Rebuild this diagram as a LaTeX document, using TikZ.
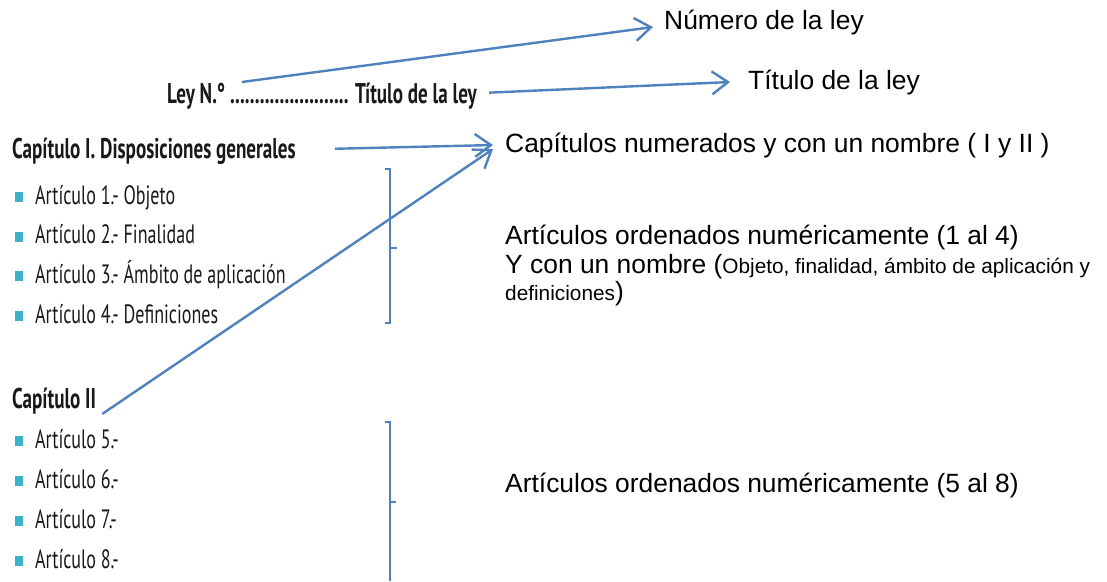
\documentclass[tikz,border=0pt]{standalone}
\usepackage{fontspec}
\setmainfont{Liberation Sans}
\newfontfamily\libro[FakeStretch=0.68]{PT Sans}
\newfontfamily\librob[FakeStretch=0.67]{PT Sans}
\usepackage{xcolor}
\usetikzlibrary{arrows.meta}
\definecolor{azul}{RGB}{79,129,189}
\definecolor{celeste}{RGB}{60,180,200}
\tikzset{
	flecha/.style={draw=azul, line width=2.4pt, -{Straight Barb[length=16pt,width=23pt]}},
	llave/.style={draw=azul, line width=1.4pt},
	nota/.style={anchor=base west, inner sep=0pt, font=\fontsize{26.4}{30}\selectfont},
	capitulo/.style={anchor=base west, inner sep=0pt, text=black!90, font=\librob\bfseries\fontsize{28.5}{32}\selectfont},
	articulo/.style={anchor=base west, inner sep=0pt, text=black!90, font=\libro\fontsize{26.5}{30}\selectfont}
}
\newcommand{\chica}{\fontsize{20.8}{24}\selectfont}

\begin{document}
\begin{tikzpicture}[x=1pt,y=-1pt]
					\useasboundingbox (0,0) rectangle (1107,581);
					% Encabezado de la ley
					\node[capitulo] (ley) at (167,103) {Ley N.° ........................ Título de la ley};
					% Capitulo I y sus articulos
					\node[capitulo] (capI) at (12,158) {Capítulo I. Disposiciones generales};
					\foreach \n/\nombre in {1/Objeto,2/Finalidad,3/Ámbito de aplicación,4/Definiciones}{
						\node[articulo] (art\n) at (35,{204+39.7*(\n-1)}) {Artículo \n.- \nombre};
						\fill[celeste] ([xshift=-20pt,yshift=2pt]art\n.base west) rectangle ++(8pt,10pt);}
					% Capitulo II y sus articulos
					\node[capitulo] (capII) at (12,408) {Capítulo II};
					\foreach \n in {5,6,7,8}{
						\node[articulo] (art\n) at (35,{448+40*(\n-5)}) {Artículo \n.-};
						\fill[celeste] ([xshift=-20pt,yshift=2pt]art\n.base west) rectangle ++(8pt,10pt);}
					% Llaves
					\draw[llave] (385,169) -- (390,169) -- (390,323) -- (385,323);
					\draw[llave] (390,248) -- (397,248);
					\draw[llave] (385,422) -- (390,422) -- (390,581);
					\draw[llave] (390,502) -- (396,502);
					% Explicaciones
					\node[nota] (numero) at (664,29) {Número de la ley};
					\node[nota] (titulo) at (748,89) {Título de la ley};
					\node[nota] (capdesc) at (505,152) {Capítulos numerados y con un nombre ( I y II )};
					\node[nota] (artdesc) at (505,244) {Artículos ordenados numéricamente (1 al 4)};
					\node[nota] (artdescb) at (505,273) {Y con un nombre ({\chica Objeto, finalidad, ámbito de aplicación y}};
					\node[nota] (artdescc) at (505,300) {{\chica definiciones})};
					\node[nota] (artdesc2) at (505,492) {Artículos ordenados numéricamente (5 al 8)};
					% Flechas
					\coordinate (leyN) at (242,82);
					\draw[flecha] (leyN) -- ([xshift=-11pt,yshift=-5pt]numero.west);
					\draw[flecha] ([xshift=12pt,yshift=3pt]ley.east) -- ([xshift=-18pt]titulo.west);
					\draw[flecha] ([xshift=39pt,yshift=2pt]capI.east) -- ([xshift=-12pt]capdesc.west);
					\draw[flecha] ([xshift=6pt]capII.south east) -- ([xshift=-12pt,yshift=-4pt]capdesc.west);
				\end{tikzpicture}
\end{document}
